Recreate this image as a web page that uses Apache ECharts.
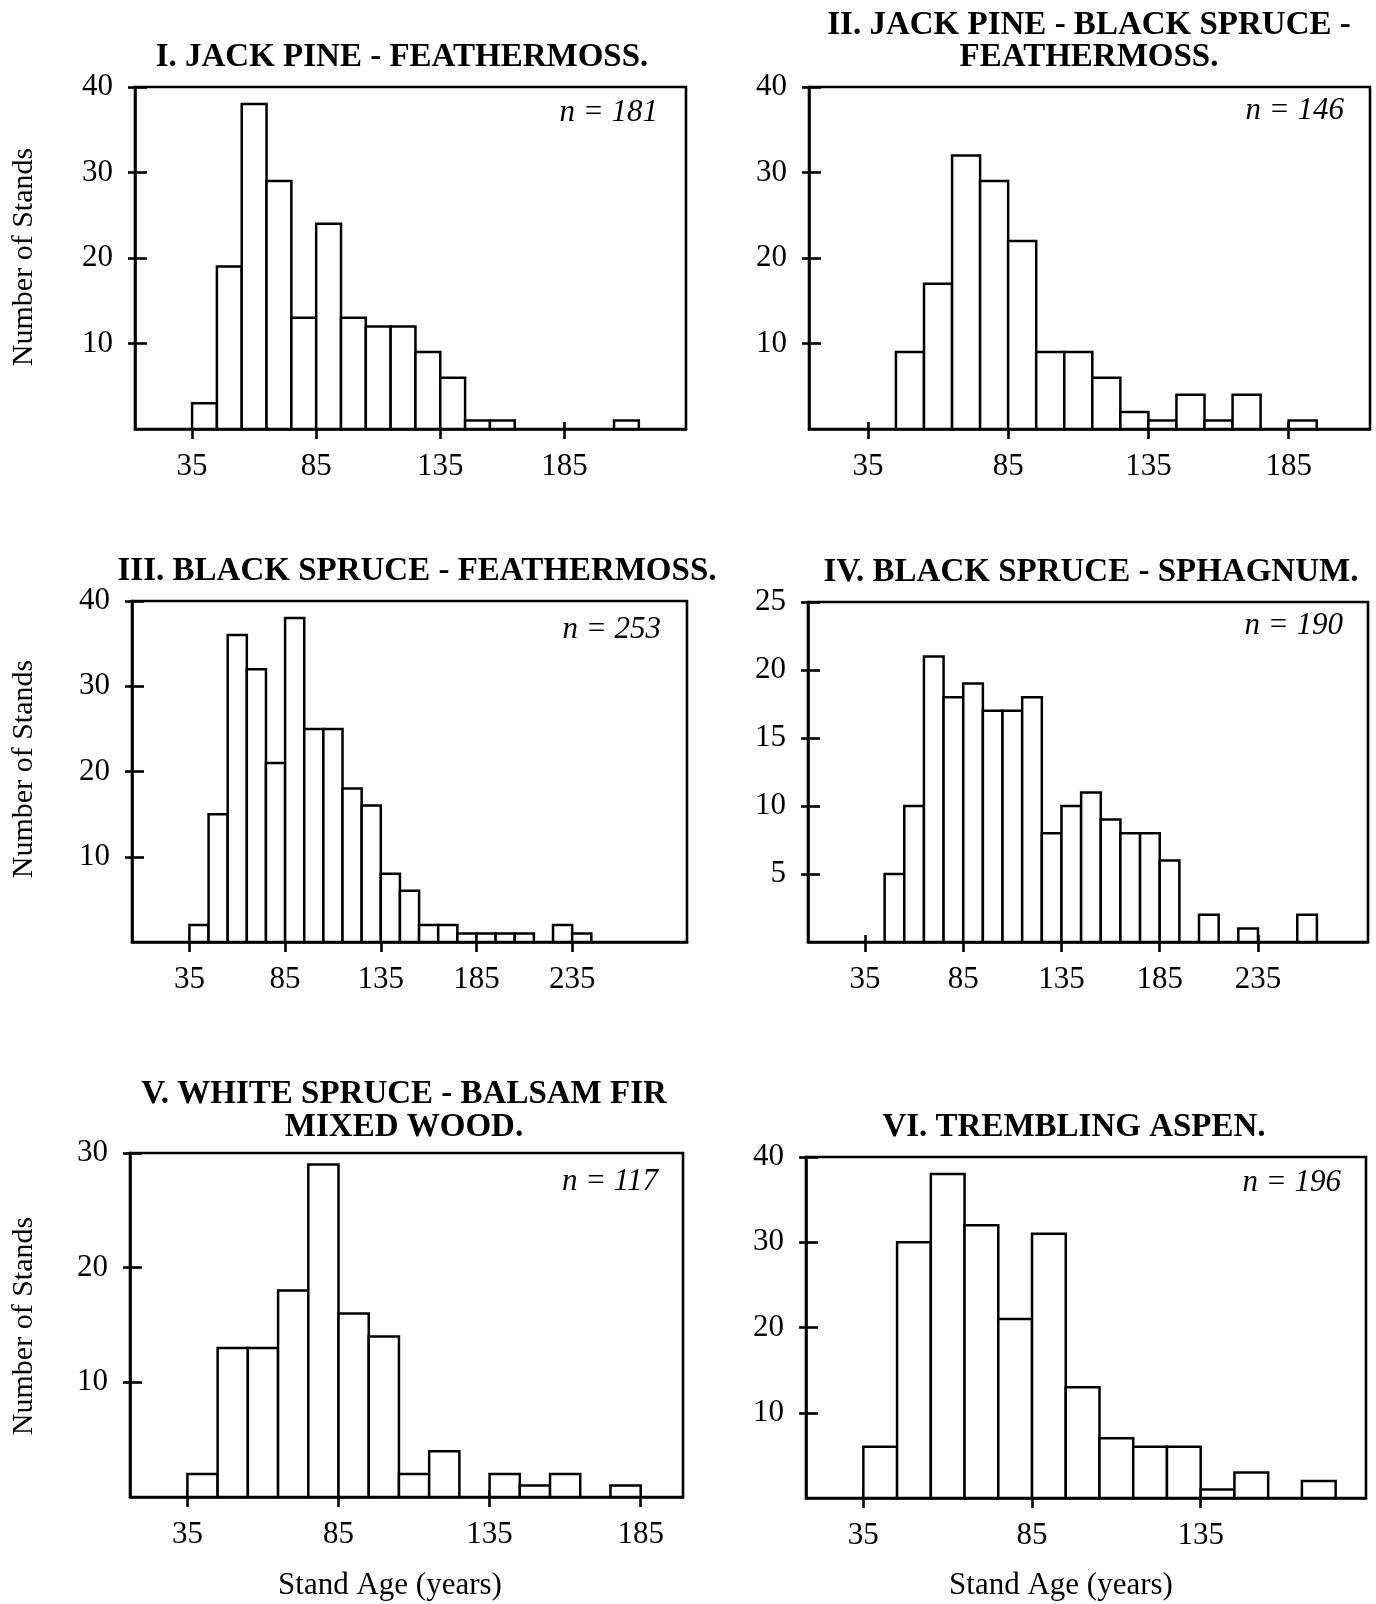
<!DOCTYPE html>
<html><head><meta charset="utf-8">
<script src="https://cdn.jsdelivr.net/npm/echarts@6/dist/echarts.min.js"></script>
<style>html,body{margin:0;padding:0;background:#fff}#c{width:1376px;height:1604px}</style>
</head><body><div id="c"></div><script>
// ---- data (bin lower edges in years, bin width 10 years; counts = number of stands) ----
const binWidth = 10;
const binsI   = [35,45,55,65,75,85,95,105,115,125,135,145,155,165,175,185,195,205];
const countsI = [3,19,38,29,13,24,13,12,12,9,6,1,1,0,0,0,0,1];
const binsII   = [35,45,55,65,75,85,95,105,115,125,135,145,155,165,175,185];
const countsII = [0,9,17,32,29,22,9,9,6,2,1,4,1,4,0,1];
const binsIII   = [35,45,55,65,75,85,95,105,115,125,135,145,155,165,175,185,195,205,215,225,235];
const countsIII = [2,15,36,32,21,38,25,25,18,16,8,6,2,2,1,1,1,1,0,2,1];
const binsIV   = [45,55,65,75,85,95,105,115,125,135,145,155,165,175,185,195,205,215,225,235,245,255];
const countsIV = [5,10,21,18,19,17,17,18,8,10,11,9,8,8,6,0,2,0,1,0,0,2];
const binsV   = [35,45,55,65,75,85,95,105,115,125,135,145,155,165,175];
const countsV = [2,13,13,18,29,16,14,2,4,0,2,1,2,0,1];
const binsVI   = [35,45,55,65,75,85,95,105,115,125,135,145,155,165];
const countsVI = [6,30,38,32,21,31,13,7,6,6,1,3,0,2];

const xTicksI = [35,85,135,185];
const xTicksII = [35,85,135,185];
const xTicksIII = [35,85,135,185,235];
const xTicksIV = [35,85,135,185,235];
const xTicksV = [35,85,135,185];
const xTicksVI = [35,85,135];
const yTicks40 = [10,20,30,40];
const yTicks25 = [5,10,15,20,25];
const yTicks30 = [10,20,30];

const titles = [
  ['I. JACK PINE - FEATHERMOSS.'],
  ['II. JACK PINE - BLACK SPRUCE -','FEATHERMOSS.'],
  ['III. BLACK SPRUCE - FEATHERMOSS.'],
  ['IV. BLACK SPRUCE - SPHAGNUM.'],
  ['V. WHITE SPRUCE - BALSAM FIR','MIXED WOOD.'],
  ['VI. TREMBLING ASPEN.']
];
const nLabels = ['n = 181','n = 146','n = 253','n = 190','n = 117','n = 196'];
const yTitle = 'Number of Stands';
const xTitle = 'Stand Age (years)';

// ---- layout ----
const FONT = '"Liberation Serif", "Times New Roman", serif';
const panels = [
  {bins:binsI, counts:countsI, xMin:12, xMax:234, yMax:40, xt:xTicksI, yt:yTicks40, g:{l:135,r:686,t:87,b:429}, tp:[[402,57]], np:[658,113]},
  {bins:binsII, counts:countsII, xMin:14, xMax:214, yMax:40, xt:xTicksII, yt:yTicks40, g:{l:809,r:1370,t:87,b:429}, tp:[[1089,25],[1089,57]], np:[1344,111]},
  {bins:binsIII, counts:countsIII, xMin:5, xMax:295, yMax:40, xt:xTicksIII, yt:yTicks40, g:{l:132,r:687,t:601,b:942}, tp:[[417,571]], np:[661,630]},
  {bins:binsIV, counts:countsIV, xMin:6, xMax:291, yMax:25, xt:xTicksIV, yt:yTicks25, g:{l:808,r:1368,t:602,b:942}, tp:[[1091,572]], np:[1343,626]},
  {bins:binsV, counts:countsV, xMin:16, xMax:199, yMax:30, xt:xTicksV, yt:yTicks30, g:{l:130,r:683,t:1153,b:1497}, tp:[[404,1094],[404,1127]], np:[658,1182]},
  {bins:binsVI, counts:countsVI, xMin:18, xMax:184, yMax:40, xt:xTicksVI, yt:yTicks40, g:{l:806,r:1366,t:1157,b:1498}, tp:[[1074,1127]], np:[1341,1183]}
];

const grid = [], xAxis = [], yAxis = [], series = [], graphic = [];
const LW = 2.6;
panels.forEach(function(p, i){
  grid.push({left:p.g.l, top:p.g.t, width:p.g.r-p.g.l, height:p.g.b-p.g.t, show:true,
    borderColor:'#000', borderWidth:LW, backgroundColor:'transparent', containLabel:false});
  // primary axes (line, outward ticks, labels)
  xAxis.push({gridIndex:i, type:'value', min:p.xMin, max:p.xMax, position:'bottom',
    axisLine:{show:true, onZero:false, lineStyle:{color:'#000', width:LW}},
    axisTick:{show:true, inside:false, length:10, customValues:p.xt, lineStyle:{color:'#000', width:LW}},
    axisLabel:{show:true, customValues:p.xt, margin:22, color:'#000', fontFamily:FONT, fontSize:31},
    splitLine:{show:false}});
  // secondary axes (inward ticks only)
  xAxis.push({gridIndex:i, type:'value', min:p.xMin, max:p.xMax, position:'bottom',
    axisLine:{show:false, onZero:false},
    axisTick:{show:true, inside:true, length:7, customValues:p.xt, lineStyle:{color:'#000', width:LW}},
    axisLabel:{show:false}, splitLine:{show:false}});
  yAxis.push({gridIndex:i, type:'value', min:0, max:p.yMax, position:'left',
    axisLine:{show:true, onZero:false, lineStyle:{color:'#000', width:LW}},
    axisTick:{show:true, inside:false, length:7, customValues:p.yt, lineStyle:{color:'#000', width:LW}},
    axisLabel:{show:true, customValues:p.yt, margin:22, color:'#000', fontFamily:FONT, fontSize:31},
    splitLine:{show:false}});
  yAxis.push({gridIndex:i, type:'value', min:0, max:p.yMax, position:'left',
    axisLine:{show:false, onZero:false},
    axisTick:{show:true, inside:true, length:12, customValues:p.yt, lineStyle:{color:'#000', width:LW}},
    axisLabel:{show:false}, splitLine:{show:false}});
  const data = p.bins.map(function(b, k){ return [b, b + binWidth, p.counts[k]]; });
  series.push({type:'custom', xAxisIndex:2*i, yAxisIndex:2*i, z:5, silent:true,
    encode:{x:[0,1], y:2},
    data:data,
    renderItem:function(params, api){
      const x0 = api.value(0), x1 = api.value(1), c = api.value(2);
      if (!c) return {type:'group', children:[]};
      const a = api.coord([x0, c]), b = api.coord([x1, 0]);
      return {type:'rect', shape:{x:a[0], y:a[1], width:b[0]-a[0], height:b[1]-a[1]},
        style:{fill:'#fff', stroke:'#000', lineWidth:2.5}};
    }});
  titles[i].forEach(function(t, k){
    graphic.push({type:'text', x:p.tp[k][0], y:p.tp[k][1], z:10,
      style:{text:t, fill:'#000', font:'bold 33px ' + FONT, align:'center', verticalAlign:'middle', textAlign:'center', textVerticalAlign:'middle'}});
  });
  graphic.push({type:'text', x:p.np[0], y:p.np[1], z:10,
    style:{text:nLabels[i], fill:'#000', font:'italic 31px ' + FONT, align:'right', verticalAlign:'middle', textAlign:'right', textVerticalAlign:'middle'}});
});
[257, 769, 1326].forEach(function(y){
  graphic.push({type:'text', x:24, y:y, rotation:Math.PI/2, z:10,
    style:{text:yTitle, fill:'#000', font:'30px ' + FONT, align:'center', verticalAlign:'middle', textAlign:'center', textVerticalAlign:'middle'}});
});
[[390,1586],[1061,1586]].forEach(function(pt){
  graphic.push({type:'text', x:pt[0], y:pt[1], z:10,
    style:{text:xTitle, fill:'#000', font:'31px ' + FONT, align:'center', verticalAlign:'middle', textAlign:'center', textVerticalAlign:'middle'}});
});

const chart = echarts.init(document.getElementById('c'), null, {renderer:'canvas'});
chart.setOption({animation:false, backgroundColor:'#fff', grid:grid, xAxis:xAxis, yAxis:yAxis, series:series, graphic:graphic});
</script></body></html>
